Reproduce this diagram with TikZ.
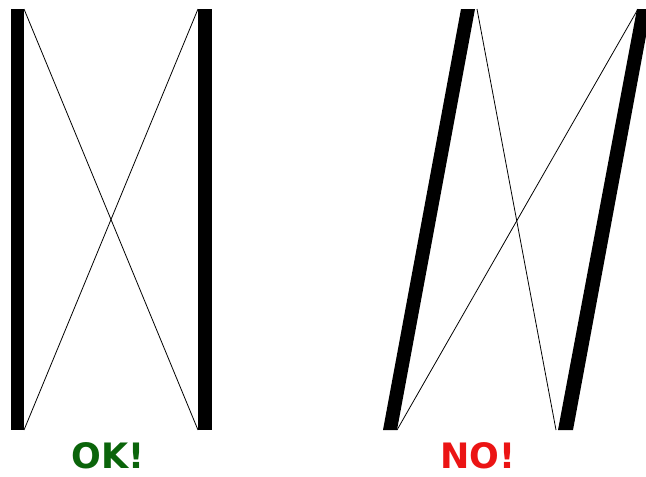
\documentclass[tikz,border=0pt]{standalone}
\usepackage{fontspec}
\setmainfont{DejaVu Sans}
\definecolor{okgreen}{RGB}{10,100,10}
\definecolor{nored}{RGB}{235,20,20}
\begin{document}
\begin{tikzpicture}[x=1pt,y=-1pt,
  bar/.style={fill=black,draw=none},
  wire/.style={draw=black,line width=0.8pt},
  label/.style={font=\bfseries\fontsize{35}{37}\selectfont,inner sep=0pt,anchor=base}]
\useasboundingbox (0,0) rectangle (646,477);
\begin{scope}
\clip (0,0) rectangle (646,477);
% left group
\fill[bar] (11,9) rectangle (24,430);
\fill[bar] (198,9) rectangle (212,430);
\coordinate (lt) at (24,9);
\coordinate (lb) at (24,430);
\coordinate (rt) at (198,9);
\coordinate (rb) at (198,430);
\draw[wire] (lt) -- (rb);
\draw[wire] (rt) -- (lb);
% right group
\fill[bar] (461,9) -- (475,9) -- (397,430) -- (383,430) -- cycle;
\fill[bar] (637,9) -- (651,9) -- (573,430) -- (558,430) -- cycle;
\coordinate (slt) at (477,9);
\coordinate (slb) at (397,430);
\coordinate (srt) at (638,9);
\coordinate (srb) at (556,430);
\draw[wire] (slt) -- (srb);
\draw[wire] (srt) -- (slb);
\end{scope}
\node[label,text=okgreen] (ok) at (108,468) {OK!};
\node[label,text=nored] (no) at (478,468) {NO!};
\end{tikzpicture}
\end{document}
